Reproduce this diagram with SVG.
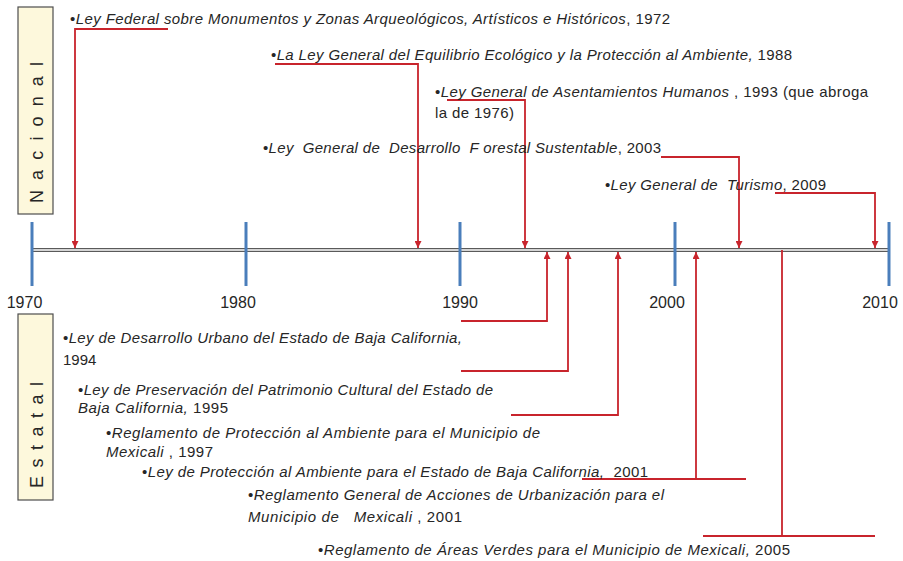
<svg xmlns="http://www.w3.org/2000/svg" width="903" height="561" viewBox="0 0 903 561">
<defs>
<marker id="ah" viewBox="0 0 8 8" refX="8" refY="4" markerWidth="7" markerHeight="7" markerUnits="userSpaceOnUse" orient="auto">
<path d="M0,0 L8,4 L0,8 z" fill="#c8242c"/>
</marker>
</defs>
<style>
text{font-family:"Liberation Sans",Arial,sans-serif;fill:#262626;font-size:15px}
.i{font-style:italic}
.yr{font-size:16px;text-anchor:middle}
.lbl{font-size:18px}
.box{fill:#fdf8dc;stroke:#4d4d4d;stroke-width:1.2}
.tick{stroke:#4a7ebb;stroke-width:3}
.con{fill:none;stroke:#c8242c;stroke-width:1.8}
.arr{marker-end:url(#ah)}
</style>
<rect width="903" height="561" fill="#ffffff"/>

<g id="label-nacional">
<rect class="box" x="18" y="7" width="35" height="207"/>
<text class="lbl" transform="translate(43,203) rotate(-90)" textLength="141" lengthAdjust="spacing">N a c i o n a l</text>
</g>
<g id="label-estatal">
<rect class="box" x="18" y="314" width="35" height="186"/>
<text class="lbl" transform="translate(43,488) rotate(-90)" textLength="106" lengthAdjust="spacing">E s t a t a l</text>
</g>

<g id="timeline">
<line x1="32" y1="250" x2="889" y2="250" stroke="#5a5a5a" stroke-width="4.2"/>
<line x1="32" y1="250" x2="889" y2="250" stroke="#ffffff" stroke-width="1.6"/>
<line class="tick" x1="32" y1="222" x2="32" y2="286"/>
<line class="tick" x1="246" y1="222" x2="246" y2="286"/>
<line class="tick" x1="460" y1="222" x2="460" y2="286"/>
<line class="tick" x1="675" y1="222" x2="675" y2="286"/>
<line class="tick" x1="889" y1="222" x2="889" y2="286"/>
<text class="yr" x="24.5" y="308">1970</text>
<text class="yr" x="238" y="308">1980</text>
<text class="yr" x="460" y="308">1990</text>
<text class="yr" x="667" y="308">2000</text>
<text class="yr" x="880" y="308">2010</text>
</g>

<g id="connectors">
<path class="con arr" d="M168,29 H75 V248"/>
<path class="con arr" d="M275,64 H418 V248"/>
<path class="con arr" d="M447,100 H525 V248"/>
<path class="con arr" d="M661,157 H739 V248"/>
<path class="con arr" d="M775,193 H875 V248"/>
<path class="con arr" d="M461,321 H547 V252"/>
<path class="con arr" d="M461,371 H568 V252"/>
<path class="con arr" d="M511,415 H618 V252"/>
<path class="con" d="M582,479 H746"/>
<path class="con arr" d="M696,479 V252"/>
<path class="con" d="M703,536 H875"/>
<path class="con" d="M782,536 V250"/>
</g>

<g id="n1972">
<text x="70" y="24" textLength="600" xml:space="preserve">•<tspan class="i">Ley Federal sobre Monumentos y Zonas Arqueológicos, Artísticos e Históricos</tspan>, 1972</text>
</g>
<g id="n1988">
<text x="271" y="60" textLength="521" xml:space="preserve">•<tspan class="i">La Ley General del Equilibrio Ecológico y la Protección al Ambiente,</tspan> 1988</text>
</g>
<g id="n1993">
<text x="435" y="97" textLength="433" xml:space="preserve">•<tspan class="i">Ley General de Asentamientos Humanos</tspan> , 1993 (que abroga</text>
<text x="435" y="118" textLength="79">la de 1976)</text>
</g>
<g id="n2003">
<text x="263" y="153" textLength="398" xml:space="preserve">•<tspan class="i">Ley  General de  Desarrollo  F orestal Sustentable</tspan>, 2003</text>
</g>
<g id="n2009">
<text x="605" y="190" textLength="221" xml:space="preserve">•<tspan class="i">Ley General de  Turismo</tspan>, 2009</text>
</g>

<g id="e1994">
<text x="63" y="343" textLength="399" xml:space="preserve">•<tspan class="i">Ley de Desarrollo Urbano del Estado de Baja California,</tspan></text>
<text x="63" y="365">1994</text>
</g>
<g id="e1995">
<text x="78" y="395" textLength="415" xml:space="preserve">•<tspan class="i">Ley de Preservación del Patrimonio Cultural del Estado de</tspan></text>
<text x="78" y="413" textLength="150" xml:space="preserve"><tspan class="i">Baja California,</tspan> 1995</text>
</g>
<g id="e1997">
<text x="106" y="438" textLength="434" xml:space="preserve">•<tspan class="i">Reglamento de Protección al Ambiente para el Municipio de</tspan></text>
<text x="106" y="457" textLength="107" xml:space="preserve"><tspan class="i">Mexicali</tspan> , 1997</text>
</g>
<g id="e2001a">
<text x="142" y="477" textLength="506" xml:space="preserve">•<tspan class="i">Ley de Protección al Ambiente para el Estado de Baja California,</tspan>  2001</text>
</g>
<g id="e2001b">
<text x="248" y="500" textLength="416" xml:space="preserve">•<tspan class="i">Reglamento General de Acciones de Urbanización para el</tspan></text>
<text x="248" y="522" textLength="214" xml:space="preserve"><tspan class="i">Municipio de   Mexicali</tspan> , 2001</text>
</g>
<g id="e2005">
<text x="318" y="555" textLength="472" xml:space="preserve">•<tspan class="i">Reglamento de Áreas Verdes para el Municipio de Mexicali,</tspan> 2005</text>
</g>
</svg>
